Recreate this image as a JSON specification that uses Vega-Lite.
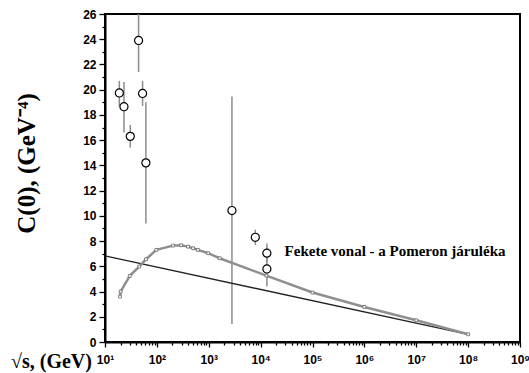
{
  "$schema": "https://vega.github.io/schema/vega-lite/v6.json",
  "width": 415,
  "height": 328,
  "autosize": "none",
  "padding": {"left": 105, "top": 14, "right": 9, "bottom": 31},
  "background": "white",
  "config": {"view": {"stroke": "black", "strokeWidth": 2}},
  "datasets": {
    "points": [
      {"x": 18.9, "y": 19.74, "lo": 18.7, "hi": 20.7},
      {"x": 23.2, "y": 18.65, "lo": 16.6, "hi": 20.6},
      {"x": 30.7, "y": 16.3, "lo": 15.4, "hi": 17.2},
      {"x": 44.4, "y": 23.9, "lo": 21.4, "hi": 26},
      {"x": 53, "y": 19.7, "lo": 18.7, "hi": 20.7},
      {"x": 61.4, "y": 14.2, "lo": 9.4, "hi": 19.0},
      {"x": 2800, "y": 10.42, "lo": 1.43, "hi": 19.47},
      {"x": 7900, "y": 8.3, "lo": 7.7, "hi": 8.9},
      {"x": 13200, "y": 7.04, "lo": 6.3, "hi": 7.8},
      {"x": 13200, "y": 5.79, "lo": 4.4, "hi": 7.2}
    ],
    "model": [
      {"x": 19.5, "y": 3.6},
      {"x": 20, "y": 4.0},
      {"x": 30, "y": 5.24},
      {"x": 45.7, "y": 5.98},
      {"x": 61.7, "y": 6.56},
      {"x": 97.7, "y": 7.3},
      {"x": 204, "y": 7.64},
      {"x": 295, "y": 7.67},
      {"x": 398, "y": 7.56},
      {"x": 501, "y": 7.43},
      {"x": 617, "y": 7.3},
      {"x": 977, "y": 7.04},
      {"x": 1622, "y": 6.64},
      {"x": 12900, "y": 5.26},
      {"x": 100000, "y": 3.92},
      {"x": 1000000, "y": 2.78},
      {"x": 10000000, "y": 1.72},
      {"x": 100000000, "y": 0.61}
    ],
    "pomeron": [
      {"x": 10, "y": 6.83},
      {"x": 100000000, "y": 0.61}
    ],
    "note": [
      {"x": 28943, "y": 6.83, "label": "Fekete vonal - a Pomeron járuléka"}
    ]
  },
  "encoding": {
    "x": {
      "field": "x",
      "type": "quantitative",
      "scale": {"type": "log", "domain": [10, 1000000000], "nice": false},
      "axis": {
        "values": [10,20,30,40,50,60,70,80,90,100,200,300,400,500,600,700,800,900,1000,2000,3000,4000,5000,6000,7000,8000,9000,10000,20000,30000,40000,50000,60000,70000,80000,90000,100000,200000,300000,400000,500000,600000,700000,800000,900000,1000000,2000000,3000000,4000000,5000000,6000000,7000000,8000000,9000000,10000000,20000000,30000000,40000000,50000000,60000000,70000000,80000000,90000000,100000000,200000000,300000000,400000000,500000000,600000000,700000000,800000000,900000000,1000000000],
        "labelExpr": "abs(log(datum.value)/LN10 - round(log(datum.value)/LN10)) < 1e-6 ? '10' + ['⁰','¹','²','³','⁴','⁵','⁶','⁷','⁸','⁹'][round(log(datum.value)/LN10)] : ''",
        "tickSize": {"condition": {"test": "abs(log(datum.value)/LN10 - round(log(datum.value)/LN10)) < 1e-6", "value": 5}, "value": 3},
        "grid": false,
        "domainColor": "black",
        "domainWidth": 2,
        "tickColor": "black",
        "tickWidth": 1.3,
        "labelFont": "Liberation Sans",
        "labelFontWeight": "bold",
        "labelFontSize": 12,
        "labelColor": "black",
        "labelPadding": 7,
        "labelOverlap": false,
        "labelFlush": false,
        "title": "√s, (GeV)",
        "titleFont": "Liberation Serif",
        "titleFontWeight": "bold",
        "titleFontSize": 20,
        "titleColor": "black",
        "titleAlign": "center",
        "titleBaseline": "alphabetic",
        "titleX": -54,
        "titleY": 25
      }
    },
    "y": {
      "field": "y",
      "type": "quantitative",
      "scale": {"domain": [0, 26], "nice": false},
      "axis": {
        "values": [0,1,2,3,4,5,6,7,8,9,10,11,12,13,14,15,16,17,18,19,20,21,22,23,24,25,26],
        "labelExpr": "datum.value % 2 == 0 ? datum.label : ''",
        "tickSize": {"condition": {"test": "datum.value % 2 == 0", "value": 6}, "value": 3},
        "grid": false,
        "domainColor": "black",
        "domainWidth": 2,
        "tickColor": "black",
        "tickWidth": 1.3,
        "labelFont": "Liberation Sans",
        "labelFontWeight": "bold",
        "labelFontSize": 12,
        "labelColor": "black",
        "labelPadding": 3,
        "labelOverlap": false,
        "labelFlush": false,
        "title": "C(0), (GeV⁻⁴)",
        "titleFont": "Liberation Serif",
        "titleFontWeight": "bold",
        "titleFontSize": 25,
        "titleColor": "black",
        "titleAlign": "center",
        "titleBaseline": "middle",
        "titleAngle": -90,
        "titleX": -79,
        "titleY": 149
      }
    }
  },
  "layer": [
    {
      "data": {"name": "points"},
      "mark": {"type": "rule", "color": "#8c8c8c", "strokeWidth": 1.5},
      "encoding": {
        "y": {"field": "lo", "type": "quantitative"},
        "y2": {"field": "hi"}
      }
    },
    {
      "data": {"name": "pomeron"},
      "mark": {"type": "line", "color": "#222222", "strokeWidth": 1.3},
      "encoding": {}
    },
    {
      "data": {"name": "model"},
      "mark": {"type": "line", "color": "#8f8f8f", "strokeWidth": 2.5, "point": {"shape": "square", "size": 8, "filled": false, "stroke": "#666666", "strokeWidth": 0.8, "fill": "white"}},
      "encoding": {}
    },
    {
      "data": {"name": "points"},
      "mark": {"type": "point", "shape": "circle", "size": 65, "filled": true, "fill": "white", "stroke": "black", "strokeWidth": 1.2, "opacity": 1},
      "encoding": {}
    },
    {
      "data": {"name": "note"},
      "mark": {"type": "text", "align": "left", "baseline": "alphabetic", "font": "Liberation Serif", "fontWeight": "bold", "fontSize": 15, "color": "black"},
      "encoding": {"text": {"field": "label"}}
    }
  ]
}
